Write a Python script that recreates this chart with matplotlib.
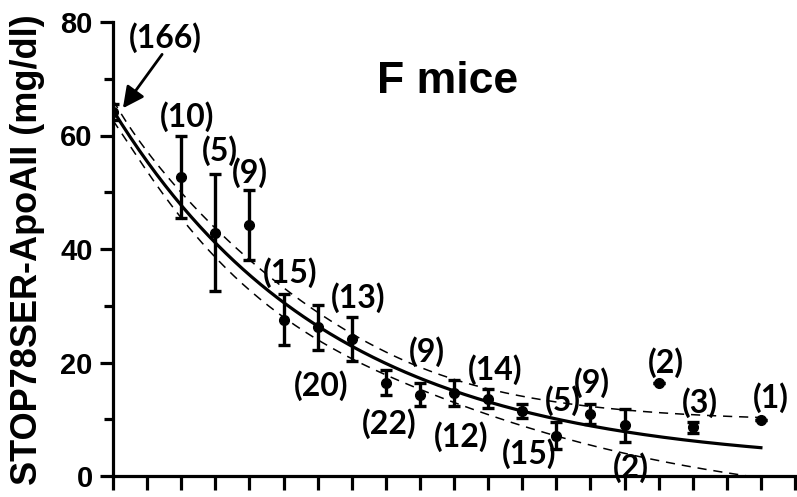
import matplotlib
matplotlib.use("Agg")
import matplotlib.pyplot as plt
from matplotlib.ticker import MultipleLocator
import numpy as np

plt.rcParams["font.family"] = ["Liberation Sans", "DejaVu Sans"]
plt.rcParams["font.weight"] = "bold"
plt.rcParams["ytick.labelsize"] = 21

# ---- data: age group, mean, SEM, number of mice ----
age = np.array([0, 2, 3, 4, 5, 6, 7, 8, 9, 10, 11, 12, 13, 14, 15, 16, 17, 19], dtype=float)
apoa2_mean = np.array([64.2, 52.7, 42.9, 44.2, 27.5, 26.2, 24.1, 16.4, 14.3, 14.7,
                       13.6, 11.5, 7.1, 10.9, 8.9, 16.3, 8.6, 9.9])
apoa2_sem = np.array([1.4, 7.3, 10.3, 6.2, 4.5, 4.0, 3.85, 2.2, 2.0, 2.3,
                      1.7, 1.2, 2.4, 1.8, 2.9, 0.0, 1.0, 0.0])
n_mice = np.array([166, 10, 5, 9, 15, 20, 13, 22, 9, 12, 14, 15, 5, 9, 2, 2, 3, 1])

# where each "(n)" label sits, in data units
label_x = [1.52, 2.17, 3.14, 4.02, 5.19, 6.10, 7.20, 8.10, 9.20, 10.2,
           11.2, 12.2, 13.2, 14.05, 15.2, 16.2, 17.2, 19.3]
label_y = [77.2, 63.3, 57.4, 53.4, 35.9, 16.0, 31.5, 9.3, 22.0, 6.9,
           18.7, 3.9, 13.2, 16.4, 1.4, 19.9, 13.0, 13.9]

T_CRIT = 2.131  # t(0.975) for 15 degrees of freedom


# ---- one-phase exponential decay, weighted by group size ----
def decay(p, x):
    y0, k, plateau = p
    return (y0 - plateau) * np.exp(-k * x) + plateau


def decay_jac(p, x):
    y0, k, plateau = p
    e = np.exp(-k * x)
    return np.column_stack([e, -(y0 - plateau) * x * e, 1 - e])


def fit_decay(x, y, w, p0):
    p = np.array(p0, dtype=float)
    W = np.diag(w)
    for _ in range(200):
        J = decay_jac(p, x)
        r = y - decay(p, x)
        step = np.linalg.solve(J.T @ W @ J, J.T @ W @ r)
        p = p + step
        if np.max(np.abs(step)) < 1e-10:
            break
    r = y - decay(p, x)
    dof = len(x) - len(p)
    s2 = np.sum(w * r ** 2) / dof
    J = decay_jac(p, x)
    cov = s2 * np.linalg.inv(J.T @ W @ J)
    return p, cov


params, cov = fit_decay(age, apoa2_mean, n_mice.astype(float), [64, 0.15, 3])
xx = np.linspace(0, 19, 300)
yy = decay(params, xx)
G = decay_jac(params, xx)
half_band = T_CRIT * np.sqrt(np.sum((G @ cov) * G, axis=1))

# ---- figure ----
fig = plt.figure(figsize=(7.97, 4.97), dpi=100)
ax = fig.add_axes([113 / 797, 21 / 497, 682 / 797, 454 / 497])

ax.plot(xx, yy, color="black", lw=2.3, zorder=3)
ax.plot(xx, yy + half_band, color="black", lw=1.1, ls=(0, (6, 4.5)), zorder=2)
ax.plot(xx, yy - half_band, color="black", lw=1.1, ls=(0, (6, 4.5)), zorder=2)

ax.errorbar(age, apoa2_mean, yerr=apoa2_sem, fmt="o", color="black", ms=7,
            elinewidth=2.4, capsize=4.5, capthick=2.4, zorder=4)

for n, lx, ly in zip(n_mice, label_x, label_y):
    ax.text(lx, ly, f"({n})", ha="center", va="center", fontsize=23,
            fontfamily="Lato", fontweight="bold", clip_on=False, zorder=5)

ax.annotate("", xy=(0.29, 64.8), xytext=(1.44, 74.3),
            arrowprops=dict(arrowstyle="-|>", color="black", lw=2,
                            mutation_scale=32, shrinkA=0, shrinkB=0))

ax.text(9.8, 67.5, "F mice", ha="center", va="baseline", fontsize=32,
        fontweight="bold")

ax.set_xlim(0, 20)
ax.set_ylim(0, 80)
ax.xaxis.set_major_locator(MultipleLocator(1))
ax.yaxis.set_major_locator(MultipleLocator(20))
ax.yaxis.set_minor_locator(MultipleLocator(10))
ax.set_xticklabels([])

for side in ("top", "right"):
    ax.spines[side].set_visible(False)
for side in ("left", "bottom"):
    ax.spines[side].set_linewidth(2.3)

ax.tick_params(axis="x", which="major", length=10, width=2.3, direction="out")
ax.tick_params(axis="y", which="major", length=9.5, width=2.3, direction="out", pad=5)
ax.tick_params(axis="y", which="minor", length=6.5, width=2.3, direction="out")

fig.text(0.035, 0.497, "STOP78SER-ApoAII (mg/dl)", rotation=90, ha="center",
         va="center", fontsize=26, fontweight="bold")

fig.savefig("out.png", dpi=100)
